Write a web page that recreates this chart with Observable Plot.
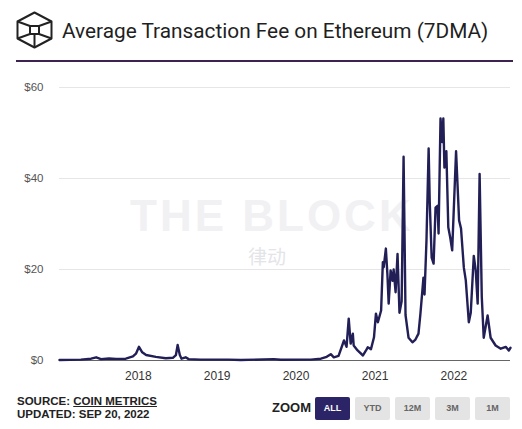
<!DOCTYPE html>
<html>
<head>
<meta charset="utf-8">
<script src="https://cdn.jsdelivr.net/npm/d3@7"></script>
<script src="https://cdn.jsdelivr.net/npm/@observablehq/plot@0.6"></script>
<style>
  html, body { margin: 0; padding: 0; background: #fff; }
  #root { position: relative; width: 522px; height: 429px; overflow: hidden; font-family: "Liberation Sans", Arial, sans-serif; }
  .abs { position: absolute; }
  #title { left: 62px; top: 19px; font-family: Roboto, "Noto Sans", sans-serif; font-size: 20.8px; color: #1f1f1f; white-space: nowrap; }
  #sep { left: 16px; top: 60px; width: 497px; height: 1.5px; background: #3d2350; }
  #chart { left: 0; top: 70px; }
  #wm1 { left: 130px; top: 193px; line-height: 45px; font-family: "Liberation Sans", Arial, sans-serif; font-weight: bold; font-size: 44px; color: #f1f1f4; letter-spacing: 3px; white-space: nowrap; }
  #wm2 { left: 248px; top: 246px; line-height: 20px; font-family: "Noto Sans CJK SC", sans-serif; font-size: 19px; color: #e4e4e8; white-space: nowrap; }
  .foot { font-weight: bold; font-size: 11.5px; color: #222; white-space: nowrap; }
  #src { left: 17px; top: 395px; }
  #upd { left: 17px; top: 408px; }
  #zoom { left: 272px; top: 400px; font-weight: bold; font-size: 13px; color: #222; }
  .btn { top: 397px; width: 35px; height: 23px; line-height: 23px; text-align: center; font-size: 9px; font-weight: bold; color: #666; background: #e4e4e4; border-radius: 2px; }
  .btn.on { background: #2b2466; color: #fff; }
</style>
</head>
<body>
<div id="root">
  <svg class="abs" style="left:0;top:0" width="60" height="60">
    <g fill="none" stroke="#222" stroke-width="2" stroke-linejoin="round">
      <polygon points="34.5,12.5 51.5,21.5 51.5,38.5 34.5,47.5 17.5,38.5 17.5,21.5"/>
      <polygon points="30,26 39,26 39,34 30,34"/>
      <line x1="17.5" y1="21.5" x2="30" y2="26"/>
      <line x1="51.5" y1="21.5" x2="39" y2="26"/>
      <line x1="30" y1="34" x2="17.5" y2="38.5"/>
      <line x1="39" y1="34" x2="51.5" y2="38.5"/>
      <line x1="34.5" y1="34" x2="34.5" y2="47.5"/>
    </g>
  </svg>
  <div id="title" class="abs">Average Transaction Fee on Ethereum (7DMA)</div>
  <div id="sep" class="abs"></div>
  <div id="wm1" class="abs">THE BLOCK</div>
  <div id="wm2" class="abs">律动</div>
  <div id="chart" class="abs"></div>
  <div id="src" class="abs foot">SOURCE: <span style="text-decoration: underline;">COIN METRICS</span></div>
  <div id="upd" class="abs foot">UPDATED: SEP 20, 2022</div>
  <div id="zoom" class="abs">ZOOM</div>
  <div class="abs btn on" style="left:315px">ALL</div>
  <div class="abs btn" style="left:355px">YTD</div>
  <div class="abs btn" style="left:395px">12M</div>
  <div class="abs btn" style="left:435px">3M</div>
  <div class="abs btn" style="left:475px">1M</div>
</div>
<script>
const dates = [
  "2017-01-01","2017-04-10","2017-05-27","2017-06-20","2017-07-12","2017-08-18","2017-09-20","2017-11-04",
  "2017-12-07","2017-12-21","2018-01-04","2018-01-19","2018-02-06","2018-03-23","2018-05-08","2018-06-10",
  "2018-06-24","2018-07-02","2018-07-12","2018-07-20","2018-08-08","2018-08-22","2018-10-16","2019-02-20",
  "2019-04-20","2019-09-20","2019-10-22","2020-03-10","2020-04-25","2020-05-22","2020-06-10","2020-06-24",
  "2020-07-16","2020-08-10","2020-08-22","2020-09-01","2020-09-10","2020-09-20","2020-09-24","2020-10-12",
  "2020-11-06","2020-11-20","2020-11-28","2020-12-13","2020-12-27","2021-01-05","2021-01-14","2021-01-29",
  "2021-02-06","2021-02-10","2021-02-20","2021-02-27","2021-03-05","2021-03-14","2021-03-23","2021-03-28",
  "2021-04-06","2021-04-15","2021-04-24","2021-05-04","2021-05-13","2021-05-22","2021-06-05","2021-06-23",
  "2021-07-07","2021-07-21","2021-07-30","2021-08-13","2021-08-18","2021-08-27","2021-09-06","2021-09-11",
  "2021-09-20","2021-09-29","2021-10-08","2021-10-17","2021-10-22","2021-10-31","2021-11-08","2021-11-13",
  "2021-11-18","2021-11-27","2021-12-06","2021-12-15","2021-12-24","2022-01-11","2022-01-25","2022-02-03",
  "2022-02-16","2022-02-25","2022-03-11","2022-03-20","2022-04-03","2022-04-12","2022-04-21","2022-04-30",
  "2022-05-10","2022-05-19","2022-06-06","2022-06-20","2022-07-13","2022-08-06","2022-08-29","2022-09-12",
  "2022-09-20"
];
const fees = [
  0.1,0.2,0.4,0.7,0.3,0.45,0.35,0.4,
  0.9,1.5,3.0,1.8,1.2,0.8,0.5,0.6,
  1.2,3.4,1.2,0.4,0.7,0.3,0.2,0.2,
  0.1,0.3,0.15,0.2,0.4,0.8,1.4,0.7,
  1.0,4.4,3.0,9.2,3.7,5.9,3.3,2.2,
  1.1,2.2,2.9,2.5,5.1,10.3,8.4,11,
  21.6,20.5,24.6,19,12.5,19.8,17.5,20,
  15,23.4,10.5,13,44.8,10,5,4,
  4.6,5.9,10.3,18.2,14.5,26.4,46.6,35,
  22.6,21.3,33.6,34,27.9,53.2,48,53.2,
  42.4,46,29.3,27,24.2,46,30.8,29,
  20.4,17.6,8.4,10.5,23,19.8,12.5,41,
  14,5,9.9,5,3.3,2.6,3,2.2,
  2.8
];
const yTicks = [0, 20, 40, 60];
const xTicks = ["2018-01-01","2019-01-01","2020-01-01","2021-01-01","2022-01-01"];
const domainX = ["2017-01-01","2022-09-20"];

const parse = d3.utcParse("%Y-%m-%d");
const data = dates.map((d, i) => ({date: parse(d), fee: fees[i]}));

const chart = Plot.plot({
  width: 522,
  height: 320,
  marginTop: 17,
  marginBottom: 30,
  marginLeft: 59,
  marginRight: 12,
  style: {fontFamily: "'Liberation Sans', Arial, sans-serif", background: "transparent"},
  x: {type: "utc", domain: domainX.map(parse)},
  y: {domain: [0, 60]},
  marks: [
    Plot.gridY(yTicks, {stroke: "#e6e6e6", strokeOpacity: 1}),
    Plot.ruleY([0], {stroke: "#666", strokeWidth: 1}),
    Plot.line(data, {x: "date", y: "fee", stroke: "#221f57", strokeWidth: 2.4, curve: "linear"}),
    Plot.axisY(yTicks, {tickSize: 0, tickPadding: 16, fontSize: 11.5, fill: "#555", tickFormat: d => "$" + d, label: null}),
    Plot.axisX(xTicks.map(parse), {tickSize: 0, tickPadding: 11, fontSize: 12, fill: "#333", tickFormat: d3.utcFormat("%Y"), label: null})
  ]
});
document.getElementById("chart").appendChild(chart);
</script>
</body>
</html>
